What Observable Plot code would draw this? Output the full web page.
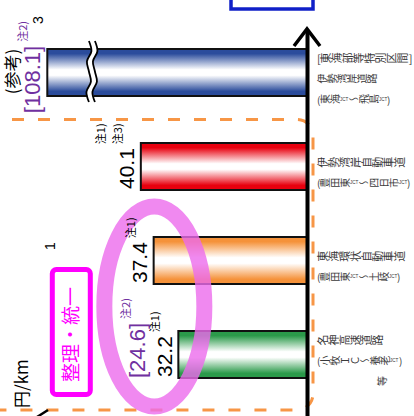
<!DOCTYPE html>
<html><head><meta charset="utf-8">
<script src="https://cdn.jsdelivr.net/npm/d3@7"></script>
<script src="https://cdn.jsdelivr.net/npm/@observablehq/plot@0.6"></script>
<style>
html,body{margin:0;padding:0;background:#fff;overflow:hidden;width:414px;height:416px}
</style></head><body><div id="chart"></div>
<script>
// ---------- data ----------
const routes = ["伊勢湾岸道路特別区間", "伊勢湾岸自動車道", "東海環状自動車道", "名神高速道路等"];
const fares = [108.1, 40.1, 37.4, 32.2];
const fareLabels = ["[108.1]", "40.1", "37.4", "32.2"];
const fareNotes = [["注2)"], ["注1)", "注3)"], ["注1)"], ["注1)"]];
const altFares = [null, null, null, 24.6];
const altLabels = [null, null, null, "[24.6]"];
const altNotes = [null, null, null, ["注2)"]];
const routeLabels = [
  ["[東海部等特別区間]", "伊勢湾岸道路", "(東海ＪＣＴ～飛島ＪＣＴ)"],
  ["伊勢湾岸自動車道", "(豊田東ＪＣＴ～四日市ＪＣＴ)"],
  ["東海環状自動車道", "(豊田東ＪＣＴ～土岐ＪＣＴ)"],
  ["名神高速道路", "(小牧ＩＣ～養老ＪＣＴ)", "　　　　　　等"]
];
const unitLabel = "円/km";
const refLabel = "(参考)";
const boxLabel = "整理・統一";
const pageMarks = ["3", "1"];

// ---------- styling ----------
const palette = ["#2b4c9c", "#e8000e", "#f5923a", "#2b9a4a"];
const NUM = "'Liberation Sans', Arial, sans-serif";
const JP = "'Noto Sans CJK JP', 'Noto Sans', sans-serif";
const PURPLE = "#7030a0";
const xDomain = [5.1, 59.8];   // axis value at the baseline .. cap of the broken bar
const breakAt = 50.4;           // where the long bar is broken

const table = routes.map((r, i) => ({route: r, fare: fares[i], key: i}));

function getScales(args) {
  return args.find(a => a && typeof a.x === "function" && typeof a.y === "function");
}
function geom(s) {
  const step = s.y(routes[1]) - s.y(routes[0]);
  const bw = step * 0.5;
  return {bw, top: r => s.y(r), mid: r => s.y(r) + bw / 2, bot: r => s.y(r) + bw};
}
function numLen(str, size) {
  let w = 0;
  for (const ch of str) w += /[0-9]/.test(ch) ? 0.556 : 0.278;
  return w * size;
}
function rotText(g, x, y, str, o) {
  const t = g.append("text")
    .attr("transform", `translate(${x},${y}) rotate(-90)`)
    .attr("text-anchor", o.anchor || "start")
    .attr("font-family", o.family || NUM)
    .attr("font-size", o.size)
    .attr("fill", o.fill || "#000");
  if (o.weight) t.attr("font-weight", o.weight);
  if (o.vertical) {
    t.attr("writing-mode", "vertical-rl").style("writing-mode", "vertical-rl");
    const parts = str.split("ＪＣＴ");
    parts.forEach((p, i) => {
      if (p) t.append("tspan").text(p);
      if (i < parts.length - 1) t.append("tspan").attr("font-size", 4.6).attr("font-family", NUM).text("JCT");
    });
  } else {
    t.attr("dominant-baseline", "central").text(str);
  }
  return t;
}

const defsMark = () => {
  const defs = d3.create("svg:defs");
  palette.forEach((c, i) => {
    const g = defs.append("linearGradient").attr("id", `grad${i}`)
      .attr("x1", 0).attr("y1", 0).attr("x2", 0).attr("y2", 1);
    [[0, c], [0.1, c], [0.44, "#fff"], [0.56, "#fff"], [0.9, c], [1, c]]
      .forEach(([o, col]) => g.append("stop").attr("offset", o).attr("stop-color", col));
  });
  return defs.node();
};

const breakMark = (...args) => {
  const s = getScales(args); const G = geom(s);
  const r = routes[0];
  const xb = s.x(breakAt);
  const y0 = G.top(r) - 8, y1 = G.bot(r) + 6;
  const wob = [0, 2.5, -2, 0, 2, -2.5, 0];
  const pts = off => wob.map((w, i) => [xb + off + w, y0 + (y1 - y0) * i / (wob.length - 1)]);
  const line = d3.line().curve(d3.curveCatmullRom);
  const g = d3.create("svg:g");
  const a = pts(-3), b = pts(3);
  g.append("path").attr("d", d3.line()(a.concat(b.slice().reverse()))).attr("fill", "#fff");
  g.append("path").attr("d", line(a)).attr("fill", "none").attr("stroke", "#000").attr("stroke-width", 1.8);
  g.append("path").attr("d", line(b)).attr("fill", "none").attr("stroke", "#000").attr("stroke-width", 1.8);
  return g.node();
};

const frameMark = (...args) => {
  const s = getScales(args); const G = geom(s);
  const top = (G.bot(routes[0]) + G.top(routes[1])) / 2;
  const bottom = G.bot(routes[3]) + 32;
  const right = s.x(xDomain[0]) + 6;
  const g = d3.create("svg:g");
  g.append("rect").attr("x", -30).attr("y", top).attr("width", right + 30).attr("height", bottom - top)
    .attr("rx", 16).attr("fill", "none").attr("stroke", "#f79646").attr("stroke-width", 3)
    .attr("stroke-dasharray", "12 14");
  g.append("rect").attr("x", right - 82).attr("y", -8).attr("width", 82).attr("height", 17)
    .attr("fill", "#fff").attr("stroke", "#1020c8").attr("stroke-width", 3.5);
  return g.node();
};

const arrowMark = (...args) => {
  const s = getScales(args);
  const x = s.x(xDomain[0]);
  const g = d3.create("svg:g");
  g.append("polyline").attr("points", `${x - 13},46 ${x},29 ${x + 13},46`)
    .attr("fill", "none").attr("stroke", "#000").attr("stroke-width", 3.5).attr("stroke-linejoin", "miter");
  return g.node();
};

const ellipseMark = (...args) => {
  const s = getScales(args); const G = geom(s);
  const cx = s.x(fares[3]) - 24, cy = G.mid(routes[3]) - 48;
  const g = d3.create("svg:g");
  g.append("ellipse").attr("cx", cx).attr("cy", cy).attr("rx", 50).attr("ry", 100)
    .attr("fill", "none").attr("stroke", "#ec6cec").attr("stroke-opacity", 0.8).attr("stroke-width", 16);
  return g.node();
};

const textMark = (...args) => {
  const s = getScales(args); const G = geom(s);
  const g = d3.create("svg:g");
  const xAxis = s.x(xDomain[0]);
  routes.forEach((r, i) => {
    const xl = s.x(Math.min(fares[i], xDomain[1]));
    const yc = G.mid(r), yb = G.bot(r);
    const lab = fareLabels[i];
    const bracket = lab.startsWith("[");
    const size = bracket ? 22 : 21;
    const len = numLen(lab, size);
    const cx = bracket ? xl - 15 : xl - 14;
    const start = bracket ? yc + 7 + len / 2 : yb - 1;
    const col = bracket ? PURPLE : "#000";
    rotText(g, cx, start, lab, {size, fill: col});
    const notes = fareNotes[i] || [];
    notes.forEach((n, k) => {
      rotText(g, cx - 10 - (notes.length - 1 - k) * 17, start - len - 4, n, {size: 11, fill: col, family: JP});
    });
    if (altFares[i] != null) {
      const al = altLabels[i];
      const alen = numLen(al, 22);
      const acx = cx - 27;
      const astart = yc - 4 + alen / 2;
      rotText(g, acx, astart, al, {size: 22, fill: PURPLE});
      (altNotes[i] || []).forEach(n => rotText(g, acx - 12, astart - alen - 4, n, {size: 11, fill: PURPLE, family: JP}));
    }
    const lines = routeLabels[i];
    const first = yc + 6 - (lines.length - 1) * 20.5 / 2;
    lines.forEach((ln, k) => {
      rotText(g, xAxis + 10, first + k * 20.5, ln, {size: k === 0 ? 11 : 10, fill: "#3a3a3a", family: JP, vertical: true});
    });
  });
  rotText(g, 11, G.mid(routes[0]) - 1, refLabel, {size: 17, family: JP, anchor: "middle"});
  rotText(g, 20, G.bot(routes[3]) + 30, unitLabel, {size: 17, family: JP});
  rotText(g, 38, 20, pageMarks[0], {size: 14, anchor: "middle"});
  rotText(g, 50, 246, pageMarks[1], {size: 14, anchor: "middle"});
  const bx = s.x(xDomain[1]) + 24, by = (G.mid(routes[2]) + G.mid(routes[3])) / 2 + 24;
  g.append("rect").attr("x", bx - 19).attr("y", by - 62).attr("width", 38).attr("height", 125)
    .attr("rx", 4).attr("fill", "#fff").attr("stroke", "#ff00ff").attr("stroke-width", 5);
  rotText(g, bx - 2, by + 3, boxLabel, {size: 19, fill: "#ff00ff", family: JP, anchor: "middle"});
  g.append("line").attr("x1", 37).attr("y1", 417).attr("x2", 48).attr("y2", 410)
    .attr("stroke", "#000").attr("stroke-width", 2.5);
  return g.node();
};

const plot = Plot.plot({
  width: 414, height: 416,
  marginTop: 30, marginBottom: 0, marginLeft: 0, marginRight: 0,
  style: {background: "white", fontFamily: NUM},
  x: {domain: xDomain, range: [307, 47.3], axis: null},
  y: {type: "band", domain: routes, range: [0, 426], padding: 0.5, axis: null},
  color: {type: "identity"},
  marks: [
    defsMark,
    frameMark,
    Plot.barX(table, {
      y: "route",
      x1: () => xDomain[0],
      x2: d => Math.min(d.fare, xDomain[1]),
      fill: d => `url(#grad${d.key})`,
      stroke: "#111", strokeWidth: 2
    }),
    breakMark,
    ellipseMark,
    Plot.ruleX([xDomain[0]], {stroke: "#000", strokeWidth: 4}),
    arrowMark,
    textMark
  ]
});
document.getElementById("chart").appendChild(plot);
</script>
</body></html>
